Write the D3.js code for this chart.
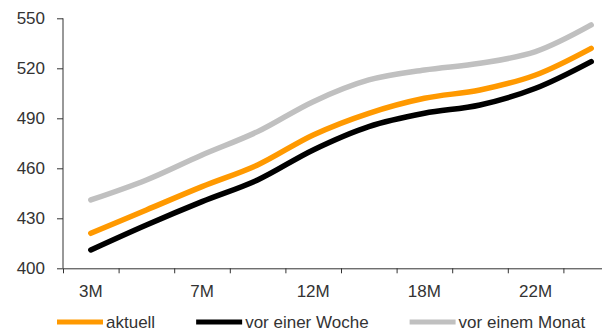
<!DOCTYPE html>
<html>
<head>
<meta charset="utf-8">
<script src="https://cdn.jsdelivr.net/npm/d3@7"></script>
<style>
  body { margin: 0; background: #fff; }
  svg text { font-family: "Liberation Sans", Arial, sans-serif; font-size: 17px; fill: #333; }
  .axis path, .axis line { stroke: #333; }
</style>
</head>
<body>
<div id="chart"></div>
<script>
// Chart data
const categories = ["3M", "5M", "7M", "9M", "12M", "15M", "18M", "20M", "22M", "24M"];
const shownLabels = ["3M", "7M", "12M", "18M", "22M"];
const aktuell = [421, 435, 449, 462, 480, 493, 502, 507, 516, 532];
const vorEinerWoche = [411, 426, 440, 453, 471, 485, 493, 498, 508, 524];
const vorEinemMonat = [441, 453, 468, 482, 500, 513, 519, 523, 530, 546];
const yTicks = [400, 430, 460, 490, 520, 550];

const seriesNames = ["aktuell", "vor einer Woche", "vor einem Monat"];
const colorMap = {
    "aktuell": "#ff9900",
    "vor einer Woche": "#000000",
    "vor einem Monat": "#c0c0c0"
};

const width = 602, height = 333;
const left = 63, axisY = 268.3, topY = 18.3;

const svg = d3.select("#chart")
    .append("svg")
    .attr("width", width)
    .attr("height", height);

const x = d3.scaleBand().domain(categories).range([left, left + 55.6 * categories.length]);
const xTick = d3.scaleLinear().domain([0, categories.length]).range(x.range());
const y = d3.scaleLinear().domain([400, 550]).range([axisY, topY]);

// Y axis
svg.append("g")
    .attr("class", "axis")
    .attr("transform", `translate(${left},0)`)
    .call(d3.axisLeft(y).tickValues(yTicks).tickSize(6).tickSizeOuter(0).tickPadding(12))
    .call(g => g.select(".domain").attr("d", `M0,${axisY}V${topY}`))
    .selectAll("text").style("font-size", "17px").style("font-family", "'Liberation Sans', Arial, sans-serif");

// X axis ticks between categories
svg.append("g")
    .attr("class", "axis")
    .attr("transform", `translate(0,${axisY})`)
    .call(d3.axisBottom(xTick).ticks(categories.length).tickFormat("").tickSize(5).tickSizeOuter(0));

// X axis labels
svg.append("g")
    .attr("class", "axis")
    .attr("transform", `translate(0,${axisY})`)
    .call(d3.axisBottom(x).tickSize(0).tickPadding(16.5).tickFormat(d => shownLabels.includes(d) ? d : ""))
    .call(g => g.select(".domain").remove())
    .selectAll("text").style("font-size", "17px").style("font-family", "'Liberation Sans', Arial, sans-serif");

const line = d3.line()
    .x((d, i) => x(categories[i]) + x.bandwidth() / 2)
    .y(d => y(d))
    .curve(d3.curveCatmullRom.alpha(0.5));

const seriesData = [
    { name: "vor einem Monat", values: vorEinemMonat },
    { name: "vor einer Woche", values: vorEinerWoche },
    { name: "aktuell", values: aktuell }
];

svg.selectAll(".line")
    .data(seriesData)
    .enter()
    .append("path")
    .attr("class", "line")
    .attr("d", d => line(d.values))
    .style("stroke", d => colorMap[d.name])
    .style("fill", "none")
    .style("stroke-width", 5.5)
    .style("stroke-linecap", "round")
    .style("stroke-linejoin", "round");

// Legend
const legendY = 322;
let lx = 57;
seriesNames.forEach(name => {
    const g = svg.append("g").attr("transform", `translate(${lx},${legendY})`);
    g.append("line")
        .attr("x1", 0).attr("x2", 46)
        .attr("y1", 0).attr("y2", 0)
        .style("stroke", colorMap[name])
        .style("stroke-width", 5);
    const t = g.append("text")
        .attr("x", 49)
        .attr("dy", "0.35em")
        .text(name);
    lx += 49 + t.node().getComputedTextLength() + 41;
});
</script>
</body>
</html>
